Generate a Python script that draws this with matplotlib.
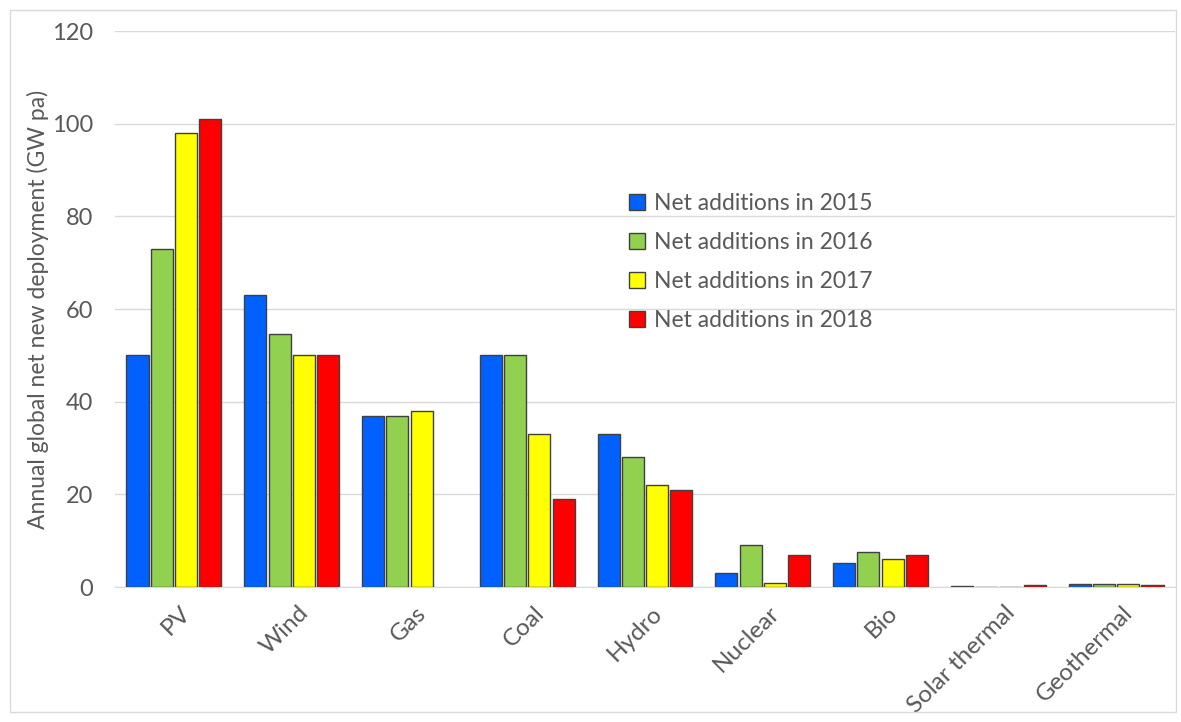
import numpy as np
import matplotlib.pyplot as plt
import matplotlib.transforms as mtransforms
from matplotlib.patches import Rectangle

# ============================
# Data
# ============================
categories = ["PV", "Wind", "Gas", "Coal", "Hydro", "Nuclear", "Bio",
              "Solar thermal", "Geothermal"]
series_labels = ["Net additions in 2015", "Net additions in 2016",
                 "Net additions in 2017", "Net additions in 2018"]
add_2015 = [50, 63, 37, 50, 33, 3, 5.2, 0.3, 0.6]
add_2016 = [73, 54.5, 37, 50, 28, 9, 7.5, 0.1, 0.6]
add_2017 = [98, 50, 38, 33, 22, 0.8, 6, 0.1, 0.6]
add_2018 = [101, 50, np.nan, 19, 21, 7, 7, 0.5, 0.4]   # no gas value for 2018
colors = ["#0061ff", "#92d050", "#ffff00", "#ff0000"]

# ============================
# Figure
# ============================
plt.rcParams["font.family"] = ["Lato", "DejaVu Sans"]
fig = plt.figure(figsize=(11.81, 7.22), dpi=100)
ax = fig.add_axes([115 / 1181, 1 - 587 / 722, 1060 / 1181, 556 / 722])

# thin frame around the whole picture
fig.patches.append(Rectangle((10 / 1181, 1 - 712 / 722), 1166 / 1181, 702 / 722,
                             transform=fig.transFigure, fill=False,
                             edgecolor="#d9d9d9", linewidth=1))

x = np.arange(len(categories))
width = 0.187
step = 0.206
all_series = [add_2015, add_2016, add_2017, add_2018]
for i, (vals, col, lab) in enumerate(zip(all_series, colors, series_labels)):
    ax.bar(x + (i - 1.5) * step, vals, width, color=col, edgecolor="#404040",
           linewidth=1, label=lab, zorder=3)

ax.set_xlim(-0.5, len(categories) - 0.5)
ax.set_ylim(0, 120)
ax.set_yticks(range(0, 121, 20))
ax.grid(axis="y", color="#d9d9d9", linewidth=1, zorder=0)
for s in ["top", "right", "left"]:
    ax.spines[s].set_visible(False)
ax.spines["bottom"].set_color("#d9d9d9")
ax.tick_params(axis="both", length=0, colors="#595959", labelsize=17)
ax.tick_params(axis="y", pad=16)
ax.set_xticks(x)
ax.set_xticklabels(categories, rotation=45, ha="right", rotation_mode="anchor",
                   color="#595959", fontsize=17.5)
ax.tick_params(axis="x", pad=11)
# nudge rotated labels right so they sit like Excel's
shift = mtransforms.ScaledTranslation(6 / 100, 0, fig.dpi_scale_trans)
for lbl in ax.get_xticklabels():
    lbl.set_transform(lbl.get_transform() + shift)
ax.set_ylabel("Annual global net new deployment (GW pa)", color="#595959",
              fontsize=16.5, labelpad=2)

leg = ax.legend(loc="upper left", bbox_to_anchor=(0.465, 0.745), frameon=False,
                fontsize=16.5, labelcolor="#595959", handlelength=0.7,
                handleheight=0.7, handletextpad=0.4, labelspacing=0.78)

plt.savefig("out.png", dpi=100)
